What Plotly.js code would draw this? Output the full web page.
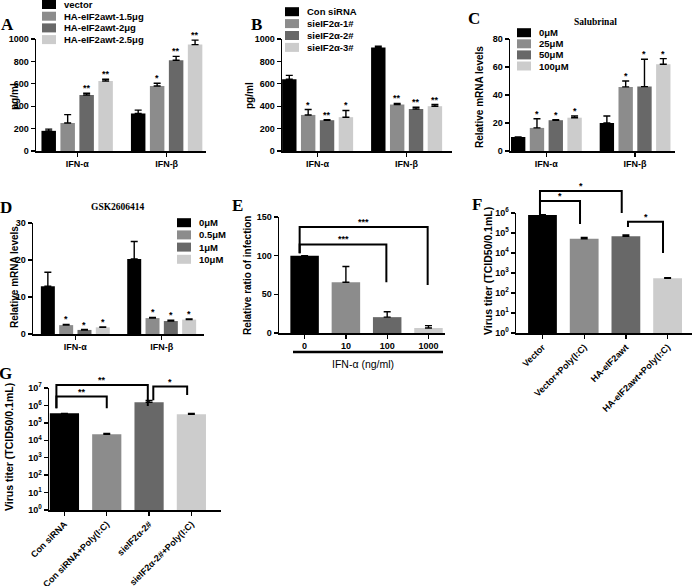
<!DOCTYPE html>
<html><head><meta charset="utf-8">
<script src="https://cdn.plot.ly/plotly-3.0.1.min.js"></script>
<style>html,body{margin:0;padding:0;background:#fff}</style>
</head><body><div id="chart" style="width:696px;height:586px"></div>
<script>
// ---------------- data ----------------
const ifnCats = ['IFN-α', 'IFN-β'];
const greys = ['#000000', '#8c8c8c', '#686868', '#cccccc'];

const aSeries = ['vector', 'HA-eIF2awt-1.5μg', 'HA-eIF2awt-2μg', 'HA-eIF2awt-2.5μg'];
const aValues = [[180, 335], [250, 580], [500, 810], [625, 950]];
const aErrTop = [[195, 365], [325, 605], [515, 845], [640, 990]];
const aStars  = [['', ''], ['', '*'], ['**', '**'], ['**', '**']];

const bSeries = ['Con siRNA', 'sieIF2α-1#', 'sieIF2α-2#', 'sieIF2α-3#'];
const bValues = [[640, 925], [322, 415], [275, 375], [302, 400]];
const bErrTop = [[675, 935], [370, 425], [280, 390], [362, 415]];
const bStars  = [['', ''], ['*', '**'], ['**', '**'], ['*', '**']];

const cSeries = ['0μM', '25μM', '50μM', '100μM'];
const cValues = [[10, 20], [16.5, 45.8], [22, 46], [23.8, 62]];
const cErrTop = [[10, 25], [23, 50], [22.4, 65.5], [25, 66]];
const cStars  = [['', ''], ['*', '*'], ['*', '*'], ['*', '*']];

const dSeries = ['0μM', '0.5μM', '1μM', '10μM'];
const dValues = [[12.9, 20.3], [2.4, 4.3], [1.1, 3.5], [1.8, 3.9]];
const dErrTop = [[16.7, 25], [2.6, 4.5], [1.2, 3.7], [1.9, 4.1]];
const dStars  = [['', ''], ['*', '*'], ['*', '*'], ['*', '*']];

const eCats   = ['0', '10', '100', '1000'];
const eValues = [100, 65.6, 20.5, 6.5];
const eErrTop = [100, 86, 27.5, 9.5];
const eBrackets = [
  {from: -0.12, to: 2.98, top: 137, fromEnd: 103, toEnd: 62, label: '***'},
  {from: -0.12, to: 1.98, top: 114.5, fromEnd: 103, toEnd: 65.6, label: '***'}
];

const fCats   = ['Vector', 'Vector+Poly(I:C)', 'HA-eIF2awt', 'HA-eIF2awt+Poly(I:C)'];
const fValues = [7.9e5, 5.2e4, 6.8e4, 540];
const fErrTop = [8.3e5, 6.0e4, 8.0e4, 580];
const fBrackets = [
  {from: -0.06, to: 1.9, top: 1.26e7, fromEnd: 8.5e5, toEnd: 1.0e6, label: '*'},
  {from: -0.06, to: 0.9, top: 4.0e6, fromEnd: 8.5e5, toEnd: 2.8e5, label: '*'},
  {from: 2.05, to: 2.89, top: 3.7e5, fromEnd: 2.0e5, toEnd: 1.0e4, label: '*'}
];

const gCats   = ['Con siRNA', 'Con siRNA+Poly(I:C)', 'sieIF2α-2#', 'sieIF2α-2#+Poly(I:C)'];
const gValues = [3.5e5, 2.2e4, 1.5e6, 3.1e5];
const gErrTop = [3.5e5, 2.45e4, 1.9e6, 3.5e5];
const gBrackets = [
  {from: -0.19, to: 1.97, top: 1.5e7, fromEnd: 7.0e5, toEnd: 9.3e5, label: '**'},
  {from: -0.19, to: 1.0, top: 3.2e6, fromEnd: 7.0e5, toEnd: 6.8e5, label: '**'},
  {from: 2.1, to: 2.9, top: 1.2e7, fromEnd: 2.0e6, toEnd: 4.0e6, label: '*'}
];

const logTickVals = [1, 10, 100, 1e3, 1e4, 1e5, 1e6, 1e7];
const logTickText = ['10<sup>0</sup>', '10<sup>1</sup>', '10<sup>2</sup>', '10<sup>3</sup>',
                     '10<sup>4</sup>', '10<sup>5</sup>', '10<sup>6</sup>', '10<sup>7</sup>'];

// ---------------- layout helpers ----------------
const W = 696, H = 586;
const PX = v => v / W, PY = v => 1 - v / H;
const SANS = 'Liberation Sans, Arial, sans-serif';
const SERIF = 'Liberation Serif, Times New Roman, serif';
const bold = (size, fam) => ({family: fam || SANS, size: size, color: '#000', weight: 'bold'});

const boxes = {
  1: {x: [36, 206], y: [39, 151]},
  2: {x: [282, 452], y: [39, 151]},
  3: {x: [510, 675], y: [39, 151]},
  4: {x: [33, 204], y: [223, 334]},
  5: {x: [279, 445], y: [217, 333]},
  6: {x: [516, 692], y: [213, 333]},
  7: {x: [49, 221], y: [388, 510]}
};

const traces = [];
const layout = {
  width: W, height: H, margin: {l: 0, r: 0, t: 0, b: 0},
  paper_bgcolor: '#fff', plot_bgcolor: 'rgba(0,0,0,0)',
  showlegend: false, barmode: 'overlay',
  shapes: [], annotations: [], font: {family: SANS, color: '#000'}
};

function axisKeys(n) {
  return {xk: n === 1 ? 'xaxis' : 'xaxis' + n, yk: n === 1 ? 'yaxis' : 'yaxis' + n,
          xr: n === 1 ? 'x' : 'x' + n, yr: n === 1 ? 'y' : 'y' + n};
}
function makeAxes(n, xr, xvals, xtext, yopts, xangle) {
  const k = axisKeys(n), b = boxes[n];
  const common = {showline: true, linewidth: 1.5, linecolor: '#000', ticks: 'outside',
    ticklen: 4, tickwidth: 1.3, tickcolor: '#000', showgrid: false, zeroline: false,
    tickfont: bold(9), automargin: false, fixedrange: true};
  layout[k.xk] = Object.assign({}, common, {domain: [PX(b.x[0]), PX(b.x[1])], anchor: k.yr,
    range: xr, tickmode: 'array', tickvals: xvals, ticktext: xtext, tickangle: xangle || 0});
  layout[k.yk] = Object.assign({}, common, {domain: [PY(b.y[1]), PY(b.y[0])], anchor: k.xr}, yopts);
  return k;
}
// convert a y data value of panel n into paper fraction (for marks drawn above the axis range)
function yPaper(n, v) {
  const ya = layout[axisKeys(n).yk];
  const u = ya.type === 'log' ? Math.log10(v) : v;
  const f = (u - ya.range[0]) / (ya.range[1] - ya.range[0]);
  return ya.domain[0] + f * (ya.domain[1] - ya.domain[0]);
}

function groupedPanel(n, xr, series, values, errTop, stars, yopts) {
  const k = makeAxes(n, xr, ifnCats.map((c, i) => i), ifnCats, yopts);
  const pitch = 0.212, w = 0.162;
  series.forEach((name, s) => {
    const c = (s - 1.5) * pitch;
    const xs = ifnCats.map((cat, i) => i);
    traces.push({type: 'bar', name: name, x: xs, y: values[s], xaxis: k.xr, yaxis: k.yr,
      width: w, offset: c - w / 2, marker: {color: greys[s], line: {width: 0}},
      error_y: {type: 'data', symmetric: false, array: errTop[s].map((t, i) => t - values[s][i]),
        arrayminus: values[s].map(() => 0), color: '#000', thickness: 1.4, width: 3.5}});
    xs.forEach((xv, i) => {
      if (!stars[s][i]) return;
      layout.annotations.push({xref: k.xr, yref: k.yr, x: xv + c, y: errTop[s][i], text: stars[s][i],
        showarrow: false, xanchor: 'center', yanchor: 'bottom', yshift: -2, font: bold(9)});
    });
  });
}

function singlePanel(n, xr, cats, values, errTop, brackets, yopts, xangle) {
  const k = makeAxes(n, xr, cats.map((c, i) => i), cats, yopts, xangle);
  const xs = cats.map((c, i) => i);
  traces.push({type: 'bar', x: xs, y: values, xaxis: k.xr, yaxis: k.yr, width: 0.69,
    marker: {color: greys, line: {width: 0}},
    error_y: {type: 'data', symmetric: false, array: errTop.map((t, i) => t - values[i]),
      arrayminus: values.map(() => 0), color: '#000', thickness: 1.4, width: 3.5}});
  brackets.forEach(br => {
    const yt = yPaper(n, br.top), ya = yPaper(n, br.fromEnd), yb = yPaper(n, br.toEnd);
    layout.shapes.push({type: 'path', xref: k.xr, yref: 'paper',
      path: `M${br.from},${ya} L${br.from},${yt} L${br.to},${yt} L${br.to},${yb}`,
      line: {color: '#000', width: 2}});
    layout.annotations.push({xref: k.xr, yref: 'paper', x: (br.from + br.to) / 2, y: yt,
      text: br.label, showarrow: false, xanchor: 'center', yanchor: 'bottom', yshift: -2, font: bold(9)});
  });
}

// ---------------- panels ----------------
groupedPanel(1, [-0.46, 1.44], aSeries, aValues, aErrTop, aStars, {range: [0, 1000], dtick: 200});
groupedPanel(2, [-0.40, 1.51], bSeries, bValues, bErrTop, bStars, {range: [0, 1000], dtick: 200});
groupedPanel(3, [-0.41, 1.45], cSeries, cValues, cErrTop, cStars, {range: [0, 80], dtick: 20});
groupedPanel(4, [-0.49, 1.49], dSeries, dValues, dErrTop, dStars, {range: [0, 30], dtick: 10});
singlePanel(5, [-0.62, 3.40], eCats, eValues, eErrTop, eBrackets, {range: [0, 150], dtick: 50}, 0);
singlePanel(6, [-0.635, 3.585], fCats, fValues, fErrTop, fBrackets,
  {type: 'log', range: [0, 6], tickmode: 'array', tickvals: logTickVals.slice(0, 7), ticktext: logTickText.slice(0, 7)}, -45);
singlePanel(7, [-0.365, 3.70], gCats, gValues, gErrTop, gBrackets,
  {type: 'log', range: [0, 7], tickmode: 'array', tickvals: logTickVals, ticktext: logTickText}, -45);

// ---------------- legends (custom, compact) ----------------
function legend(names, x0, y0, pitch) {
  names.forEach((nm, i) => {
    const yc = y0 + i * pitch;
    layout.shapes.push({type: 'rect', xref: 'paper', yref: 'paper', x0: PX(x0), x1: PX(x0 + 14),
      y0: PY(yc + 4.5), y1: PY(yc - 4.5), fillcolor: greys[i], line: {width: 0}});
    layout.annotations.push({xref: 'paper', yref: 'paper', x: PX(x0 + 20), y: PY(yc), text: nm,
      xanchor: 'left', yanchor: 'middle', showarrow: false, font: bold(9.5)});
  });
}
legend(aSeries, 42, 4.5, 11.7);
legend(bSeries, 285, 11.7, 11.9);
legend(cSeries, 517, 32.7, 11.1);
legend(dSeries, 177, 222.7, 12.2);

// ---------------- text ----------------
function txt(t, x, y, font, angle, xa) {
  layout.annotations.push({xref: 'paper', yref: 'paper', x: PX(x), y: PY(y), text: t,
    xanchor: xa || 'center', yanchor: 'middle', showarrow: false, font: font, textangle: angle || 0});
}
[['A', 7, 25], ['B', 256, 25], ['C', 474, 18], ['D', 6, 207], ['E', 237, 205], ['F', 477, 204], ['G', 5, 373]]
  .forEach(l => txt(l[0], l[1], l[2], bold(17, SERIF)));
txt('Salubrinal', 595, 22, bold(9.5, SERIF));
txt('GSK2606414', 118, 207, bold(9.5, SERIF));
txt('pg/ml', 14, 97, bold(10), -90);
txt('pg/ml', 249, 96, bold(10), -90);
txt('Relative mRNA levels', 479, 97, bold(10), -90);
txt('Relative mRNA levels', 14, 277, bold(10), -90);
txt('Relative ratio of infection', 247, 276, bold(10), -90);
txt('Virus titer (TCID50/0.1mL)', 488, 271, bold(10.5), -90);
txt('Virus titer (TCID50/0.1mL)', 9, 447, bold(10.5), -90);
txt('IFN-α (ng/ml)', 363, 364, {family: SANS, size: 10.5, color: '#000'});
layout.shapes.push({type: 'line', xref: 'paper', yref: 'paper', x0: PX(293), x1: PX(443),
  y0: PY(352), y1: PY(352), line: {color: '#000', width: 2.5}});

Plotly.newPlot('chart', traces, layout, {displayModeBar: false, staticPlot: true});
</script></body></html>
